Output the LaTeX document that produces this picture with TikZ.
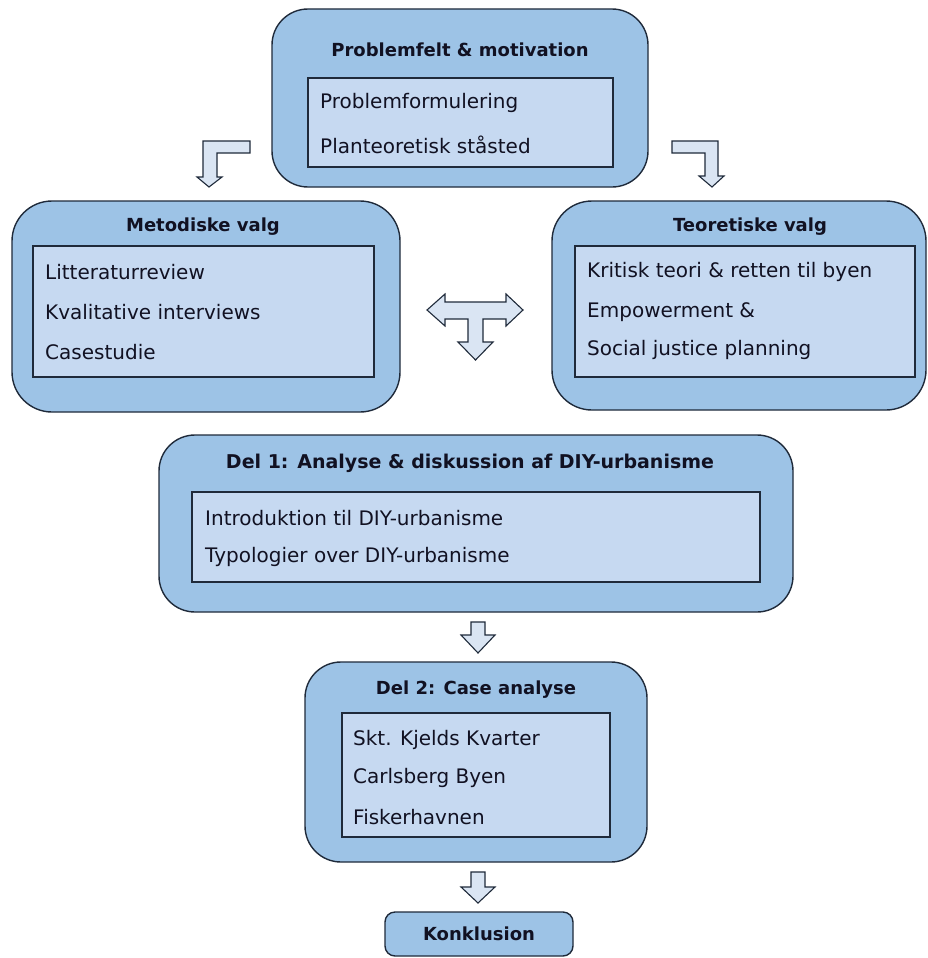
\documentclass[tikz,border=0pt]{standalone}
\usepackage{fontspec}
\setmainfont{DejaVu Sans}
\definecolor{outerfill}{HTML}{9DC3E6}
\definecolor{innerfill}{HTML}{C6D9F1}
\definecolor{arrowfill}{HTML}{DAE5F3}
\definecolor{edge}{HTML}{1F2A3A}
\definecolor{ink}{HTML}{111122}
\tikzset{
  outerbox/.style={draw=edge, line width=1.4pt, fill=outerfill, rounded corners=36pt, inner sep=0pt},
  innerbox/.style={draw=edge, line width=1.2pt, fill=innerfill, inner sep=0pt},
  titletext/.style={font=\fontsize{18}{21}\selectfont\bfseries, text=ink, inner sep=0pt},
  bodytext/.style={font=\fontsize{20}{24}\selectfont, text=ink, anchor=west, inner sep=0pt},
  blockarrow/.style={draw=edge, line width=1.1pt, fill=arrowfill, line join=miter}
}
\begin{document}
\begin{tikzpicture}[x=1pt,y=-1pt]
\path[use as bounding box] (0,0) rectangle (928,958);

% Top box
\node[outerbox, minimum width=376pt, minimum height=178pt] (top) at (460,98) {};
\node[innerbox, minimum width=305pt, minimum height=89pt] (topin) at (460.5,122.5) {};
\node[titletext] (toptitle) at (460,50) {Problemfelt \& motivation};
\node[bodytext] (t1) at (320,103) {Problemformulering};
\node[bodytext] (t2) at (320,145) {Planteoretisk ståsted};

% Metodiske valg
\node[outerbox, minimum width=388pt, minimum height=211pt, rounded corners=40pt] (met) at (206,306.5) {};
\node[innerbox, minimum width=341pt, minimum height=131pt] (metin) at (203.5,311.5) {};
\node[titletext] (mettitle) at (203,227) {Metodiske valg};
\node[bodytext] (m1) at (45,272) {Litteraturreview};
\node[bodytext] (m2) at (45,312) {Kvalitative interviews};
\node[bodytext] (m3) at (45,352) {Casestudie};

% Teoretiske valg
\node[outerbox, minimum width=374pt, minimum height=209pt, rounded corners=40pt] (teo) at (739,305.5) {};
\node[innerbox, minimum width=340pt, minimum height=131pt] (teoin) at (745,311.5) {};
\node[titletext] (teotitle) at (750,227) {Teoretiske valg};
\node[bodytext] (e1) at (587,272) {Kritisk teori \& retten til byen};
\node[bodytext] (e2) at (587,312) {Empowerment \&};
\node[bodytext] (e3) at (587,350) {Social justice planning};

% Del 1
\node[outerbox, minimum width=634pt, minimum height=177pt] (del1) at (476,523.5) {};
\node[innerbox, minimum width=568pt, minimum height=90pt] (del1in) at (476,537) {};
\node[titletext, font=\fontsize{19}{22}\selectfont\bfseries] (del1title) at (470,463) {Del 1: Analyse \& diskussion af DIY-urbanisme};
\node[bodytext] (d1) at (205,518) {Introduktion til DIY-urbanisme};
\node[bodytext] (d2) at (205,557) {Typologier over DIY-urbanisme};

% Del 2
\node[outerbox, minimum width=342pt, minimum height=200pt] (del2) at (476,762) {};
\node[innerbox, minimum width=268pt, minimum height=124pt] (del2in) at (476,775) {};
\node[titletext] (del2title) at (476,690) {Del 2: Case analyse};
\node[bodytext] (c1) at (353,740) {Skt. Kjelds Kvarter};
\node[bodytext] (c2) at (353,778) {Carlsberg Byen};
\node[bodytext] (c3) at (353,817) {Fiskerhavnen};

% Konklusion
\node[outerbox, rounded corners=10pt, minimum width=188pt, minimum height=44pt] (konk) at (479,934) {};
\node[titletext] (konktitle) at (479,934) {Konklusion};

% Bent arrow left
\draw[blockarrow] (250,141) -- (203,141) -- (203,177) -- (197,177) -- (209,187) -- (222,177) -- (217,177) -- (217,153) -- (250,153) -- cycle;
% Bent arrow right
\draw[blockarrow] (672,141) -- (718,141) -- (718,176) -- (724,176) -- (712,187) -- (699,176) -- (705,176) -- (705,153) -- (672,153) -- cycle;
% T arrow
\draw[blockarrow] (427,310) -- (445,294) -- (445,302) -- (506,302) -- (506,294) -- (523,310) -- (506,326) -- (506,319) -- (483,319) -- (483,342) -- (493,342) -- (475.5,360) -- (458,342) -- (468,342) -- (468,319) -- (445,319) -- (445,326) -- cycle;
% Down arrow 1
\draw[blockarrow] (471,622) -- (485,622) -- (485,635) -- (495,635) -- (478,653) -- (461,635) -- (471,635) -- cycle;
% Down arrow 2
\draw[blockarrow] (471,872) -- (485,872) -- (485,887) -- (495,887) -- (478,903) -- (461,887) -- (471,887) -- cycle;
\end{tikzpicture}
\end{document}
